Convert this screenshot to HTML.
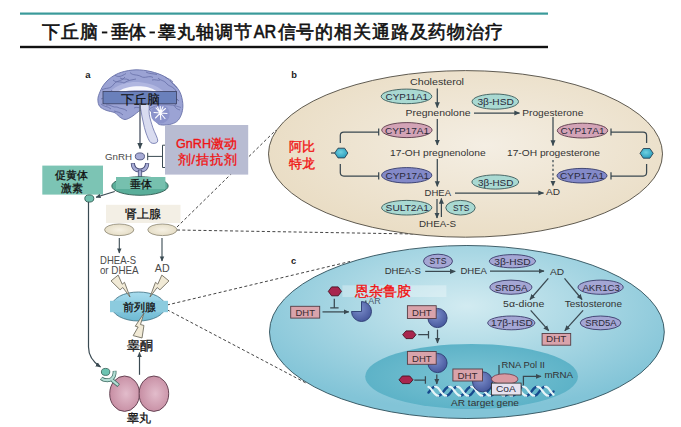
<!DOCTYPE html>
<html><head><meta charset="utf-8">
<style>
html,body{margin:0;padding:0;background:#fff;width:681px;height:427px;overflow:hidden}
svg{position:absolute;left:0;top:0;font-family:"Liberation Sans",sans-serif}
.t{font-size:9.5px;fill:#333}
.e{font-size:9.8px;fill:#2a2a3a}
.cn{fill:#111;stroke:#111;stroke-width:0.3px}
.red{fill:#f01414;stroke:#f01414;stroke-width:0.35px}
</style></head><body>
<svg width="681" height="427" viewBox="0 0 681 427">
<defs>
  <radialGradient id="gb" cx="0.55" cy="0.45" r="0.6">
    <stop offset="0" stop-color="#f4eee3"/>
    <stop offset="1" stop-color="#e9dcc3"/>
  </radialGradient>
  <radialGradient id="gc" cx="0.5" cy="0.35" r="0.6">
    <stop offset="0" stop-color="#d2ebf1"/>
    <stop offset="1" stop-color="#82c4d7"/>
  </radialGradient>
  <radialGradient id="gn" cx="0.5" cy="0.5" r="0.6">
    <stop offset="0" stop-color="#7cc4d4"/>
    <stop offset="1" stop-color="#57afc5"/>
  </radialGradient>
  <marker id="ah" viewBox="0 0 10 10" refX="9" refY="5" markerWidth="4.6" markerHeight="4.6" orient="auto-start-reverse">
    <path d="M0,0.6 L10,5 L0,9.4 z" fill="#3a4a52"/>
  </marker>
</defs>

<!-- title -->
<rect x="20" y="12.5" width="528" height="2.2" fill="#3a9a9a"/>
<rect x="20" y="45.8" width="528" height="2.4" fill="#111"/>
<g style="font-size:18.3px;fill:#111;stroke:#111;stroke-width:0.6px">
<text x="42.3" y="37.6" style="letter-spacing:0.9px">下丘脑</text>
<rect x="101.9" y="31.5" width="5.4" height="1.9" style="stroke:none"/>
<text x="111" y="37.6" style="letter-spacing:-1px">垂体</text>
<rect x="149.5" y="31.5" width="5.4" height="1.9" style="stroke:none"/>
<text x="158.2" y="37.6" style="letter-spacing:1px">睾丸轴调节</text>
<text x="253.8" y="37.6" textLength="22.5" lengthAdjust="spacingAndGlyphs">AR</text>
<text x="277.6" y="37.6" style="letter-spacing:0.85px">信号的相关通路及药物治疗</text>
</g>

<!-- ============ PANEL A ============ -->
<text x="85.3" y="77.9" style="font-size:9.5px;font-weight:bold;fill:#1a1a1a">a</text>

<!-- brain -->
<path d="M136.0,69.8 C131.1,69.9 125.4,71.0 121.3,72.3 C117.2,73.6 114.2,75.3 111.2,77.4 C108.2,79.5 105.6,82.3 103.6,85.0 C101.6,87.7 100.2,91.3 99.2,93.8 C98.2,96.3 97.8,98.1 97.9,100.2 C98.0,102.3 98.4,104.8 99.8,106.5 C101.2,108.2 103.6,109.2 106.1,110.3 C108.6,111.3 112.8,111.7 115.0,112.8 C117.2,113.9 117.8,115.7 119.5,116.8 C121.2,117.9 122.9,119.5 125.0,119.5 C127.1,119.5 129.3,118.1 132.0,116.5 C134.7,114.9 138.2,111.2 141.0,110.0 C143.8,108.8 146.4,107.0 149.0,109.0 C151.6,111.0 154.4,119.5 156.6,122.2 C158.8,124.9 159.7,124.7 162.2,125.0 C164.7,125.3 168.9,124.8 171.6,124.0 C174.2,123.2 176.4,122.2 178.1,120.3 C179.8,118.4 181.1,115.6 181.9,112.8 C182.7,110.0 183.1,106.9 182.8,103.5 C182.5,100.1 181.6,95.5 180.0,92.2 C178.4,88.9 176.2,86.5 173.5,83.8 C170.8,81.1 167.8,78.3 164.1,76.3 C160.3,74.3 155.7,72.7 151.0,71.6 C146.3,70.5 140.9,69.7 136.0,69.8 Z" fill="#9ba3d4" stroke="#6870a8" stroke-width="0.9"/>
<path d="M108.0,100.0 C107.7,98.2 108.3,94.3 110.0,92.0 C111.7,89.7 114.7,87.6 118.0,86.0 C121.3,84.4 126.0,83.1 130.0,82.5 C134.0,81.9 138.2,82.1 142.0,82.5 C145.8,82.9 149.7,83.8 153.0,85.0 C156.3,86.2 159.8,88.2 162.0,90.0 C164.2,91.8 166.3,94.5 166.0,96.0 C165.7,97.5 162.7,99.0 160.0,99.0 C157.3,99.0 153.3,96.7 150.0,96.0 C146.7,95.3 143.7,95.0 140.0,95.0 C136.3,95.0 131.7,95.3 128.0,96.0 C124.3,96.7 120.7,97.8 118.0,99.0 C115.3,100.2 113.7,102.8 112.0,103.0 C110.3,103.2 108.3,101.8 108.0,100.0 Z" fill="#b0b6e0"/>
<g fill="none" stroke="#5e67a0" stroke-width="0.7">
<path d="M102,90 C106,87 110,90 114,84 C117,80 121,82 125,77 M115,75 C118,78 122,76 126,73.5"/>
<path d="M130,72.5 C133,76 137,74 141,76.5 C145,79 149,75 153,77.5 M146,72 C149,74 153,73.5 157,74.5"/>
<path d="M158,78 C161,81 164,80 167,84 C170,87 173,86 176,91 M165,77 C168,79 171,79 173,82"/>
<path d="M101,99 C104,97 107,100 110,97 M113,80 C116,83 120,81 124,83 C128,80 132,80 136,79"/>
<path d="M168,93 C171,95 175,97 178,100 M176,104 C173,106 176,109 180,110"/>
<path d="M101,104 C104,107 108,106 111,109 M104,93 C107,91 110,94 112,90"/>
<path d="M106,105 C110,104 113,108 117,107 C120,109 124,108 127,111 M114,111 C117,112 120,112 123,115"/>
<path d="M134,108 C137,106 139,109 141,107 M171,98 C174,100 176,98 179,101 M120,78 C123,80 126,78 129,80"/>
<path d="M170,80 C172,84 175,85 177,88 M152,80 C155,79 158,81 160,80"/>
</g>
<path d="M116.0,93.5 C115.7,93.1 120.7,89.7 124.0,88.5 C127.3,87.3 132.0,86.5 136.0,86.3 C140.0,86.1 144.5,86.4 148.0,87.3 C151.5,88.2 156.7,91.0 157.0,91.5 C157.3,92.0 153.2,90.8 150.0,90.5 C146.8,90.2 142.0,89.9 138.0,90.0 C134.0,90.1 129.7,90.4 126.0,91.0 C122.3,91.6 116.3,93.9 116.0,93.5 Z" fill="#f7f7fc"/>
<path d="M150,108.5 C158,104 170,103.5 181,107.5" fill="none" stroke="#6a73ab" stroke-width="0.7"/>
<circle cx="160.3" cy="114" r="9.4" fill="#8b93cb"/>
<g stroke="#fcfcff" stroke-width="1.1" stroke-linecap="round">
<path d="M160.3,113 L160.3,106.5 M160.3,113 L165.5,108.5 M160.3,113 L167,113.5 M160.3,113 L165,118.5 M160.3,113 L160.8,119.5 M160.3,113 L155.5,118 M160.3,113 L154,112.5 M160.3,113 L156,108 M160.3,113 L163,106.8 M160.3,113 L157.5,107"/>
</g>
<path d="M140.7,104.0 C141.9,102.6 147.2,101.7 148.6,103.5 C150.0,105.3 148.6,110.7 149.3,114.7 C150.0,118.8 151.5,123.4 152.9,127.8 C154.3,132.2 158.1,138.5 157.8,141.0 C157.5,143.5 153.0,144.1 151.0,142.8 C149.0,141.5 147.3,136.5 146.0,133.0 C144.7,129.5 144.0,125.5 143.2,122.0 C142.4,118.5 141.6,115.0 141.2,112.0 C140.8,109.0 139.5,105.4 140.7,104.0 Z" fill="#d9dcf0" stroke="#6870a8" stroke-width="0.8"/>
<rect x="103" y="91.5" width="73.5" height="12.3" fill="#6a80bb" stroke="#3a3f5f" stroke-width="0.8"/>
<text x="120.5" y="103.8" style="font-size:13.4px;fill:#111;stroke:#111;stroke-width:0.2">下丘脑</text>
<line x1="140" y1="104" x2="140" y2="148.5" stroke="#586070" stroke-width="1.4" marker-end="url(#ah)"/>

<!-- GnRH -->
<g stroke="#444" stroke-width="1" stroke-dasharray="3,2.3" fill="none">
  <line x1="177" y1="227" x2="276" y2="130"/>
  <line x1="177" y1="230" x2="414" y2="234"/>
  <line x1="167" y1="305" x2="350" y2="261.5"/>
  <line x1="167" y1="309.7" x2="306" y2="383"/>
</g>
<text x="105" y="159.8" class="t" style="fill:#4a4a4a" textLength="27" lengthAdjust="spacingAndGlyphs">GnRH</text>
<ellipse cx="139.9" cy="156.4" rx="4.6" ry="3.5" fill="#a8acd6" stroke="#4a4f7a" stroke-width="0.9"/>
<line x1="147.7" y1="156.4" x2="162.5" y2="156.4" stroke="#3a4a52" stroke-width="1"/>
<line x1="147.7" y1="152.8" x2="147.7" y2="160.2" stroke="#3a4a52" stroke-width="1"/>
<path d="M166,145.2 L162.5,145.2 L162.5,167.5 L166,167.5" fill="none" stroke="#3a4a52" stroke-width="1"/>
<rect x="165" y="125" width="83.2" height="49.6" fill="#b8bcd2"/>
<text x="176" y="147.9" class="red" style="font-size:12.6px">GnRH激动</text>
<text x="177.5" y="163.6" class="red" style="font-size:12.6px;letter-spacing:0.9px">剂/拮抗剂</text>

<!-- pituitary receptor -->
<path d="M132.8,163.2 C133,168.5 136,170.5 140,170.5 C144,170.5 147,168.5 147.2,163.2" fill="none" stroke="#4a4f7a" stroke-width="4.2"/>
<path d="M132.8,163.6 C133,168.5 136,170.5 140,170.5 C144,170.5 147,168.5 147.2,163.6" fill="none" stroke="#a8acd6" stroke-width="2.4"/>
<rect x="138.3" y="170" width="3.4" height="7.5" fill="#a8acd6" stroke="#4a4f7a" stroke-width="0.8"/>
<ellipse cx="140" cy="186" rx="28.2" ry="9.3" fill="#5aae9a" stroke="#2e5a50" stroke-width="0.9"/>
<rect x="116" y="177" width="49.4" height="12" fill="#76c0ae"/>
<text x="129.7" y="187.8" class="cn" style="font-size:10.6px">垂体</text>

<rect x="42.3" y="165.6" width="60.7" height="29" fill="#7cc4b4"/>
<text x="55.4" y="178.6" class="cn" style="font-size:10.5px">促黄体</text>
<text x="60.6" y="191.6" class="cn" style="font-size:10.5px">激素</text>
<line x1="114.7" y1="191.4" x2="96" y2="197.3" stroke="#3a4a52" stroke-width="1.1" marker-end="url(#ah)"/>
<ellipse cx="89.3" cy="198.5" rx="4.5" ry="3.6" fill="#6fbfae" stroke="#2e5a50" stroke-width="0.9"/>
<path d="M88.5,202 L88.5,347 C88.5,356 93,362 100.5,367" fill="none" stroke="#3a4a52" stroke-width="1.2" marker-end="url(#ah)"/>

<!-- adrenal -->
<rect x="106" y="204.8" width="74.5" height="18.2" fill="#f3efe5"/>
<defs><radialGradient id="gad" cx="0.5" cy="0.5" r="0.55"><stop offset="0" stop-color="#f6f1e4"/><stop offset="1" stop-color="#e4dcc4"/></radialGradient></defs>
<text x="125.3" y="218.3" class="cn" style="font-size:12.3px">肾上腺</text>
<ellipse cx="119.2" cy="229.8" rx="14.6" ry="5.8" fill="url(#gad)" stroke="#8a8470" stroke-width="0.8"/>
<ellipse cx="162.4" cy="229.8" rx="14.6" ry="5.8" fill="url(#gad)" stroke="#8a8470" stroke-width="0.8"/>
<line x1="119.3" y1="238" x2="119.3" y2="253" stroke="#3a4a52" stroke-width="1.1" marker-end="url(#ah)"/>
<line x1="162" y1="238" x2="162" y2="261" stroke="#3a4a52" stroke-width="1.1" marker-end="url(#ah)"/>
<text x="100.1" y="263.5" class="t" style="fill:#4a4a4a;font-size:10.5px" textLength="35.9" lengthAdjust="spacingAndGlyphs">DHEA-S</text>
<text x="99.9" y="273.5" class="t" style="fill:#4a4a4a;font-size:10.5px" textLength="38.8" lengthAdjust="spacingAndGlyphs">or DHEA</text>
<text x="154.8" y="271.8" class="t" style="fill:#4a4a4a;font-size:10.5px" textLength="14.8" lengthAdjust="spacingAndGlyphs">AD</text>

<!-- prostate -->
<defs><linearGradient id="gp" x1="0" y1="0" x2="0" y2="1"><stop offset="0" stop-color="#a8dcee"/><stop offset="1" stop-color="#6db9d2"/></linearGradient>
<radialGradient id="gt" cx="0.55" cy="0.5" r="0.6"><stop offset="0" stop-color="#e2bccb"/><stop offset="1" stop-color="#c4899f"/></radialGradient></defs>
<ellipse cx="138.5" cy="306.5" rx="26.8" ry="14.5" fill="url(#gp)" stroke="#3e6f80" stroke-width="0.8"/>
<!-- bolts -->
<g fill="#f1ead6" stroke="#6e6a5c" stroke-width="0.8" stroke-linejoin="miter">
<path transform="translate(114.6,278) rotate(-39)" d="M-4.6,0 L4.6,0 L2,9.6 L5,9.6 L0,24.5 L0.4,12.6 L-3.2,12.6 Z"/>
<path transform="translate(165.4,278) rotate(39) scale(-1,1)" d="M-4.6,0 L4.6,0 L2,9.6 L5,9.6 L0,24.5 L0.4,12.6 L-3.2,12.6 Z"/>
<path transform="translate(137.6,336.8) rotate(195)" d="M-4.6,0 L4.6,0 L2,9.6 L5,9.6 L0,24.5 L0.4,12.6 L-3.2,12.6 Z"/>
</g>
<rect x="110" y="300.8" width="58" height="11.4" fill="#8ccbde"/>
<text x="123.1" y="311" class="cn" style="font-size:10.7px">前列腺</text>
<text x="127.2" y="350.4" class="cn" style="font-size:12.6px">睾酮</text>
<line x1="139.5" y1="374.8" x2="139.5" y2="352.5" stroke="#3a4a52" stroke-width="1.2" marker-end="url(#ah)"/>

<!-- testes -->
<ellipse cx="124.6" cy="393.7" rx="14.9" ry="17.7" fill="url(#gt)" stroke="#5a3848" stroke-width="0.9"/>
<ellipse cx="153.9" cy="393.7" rx="14.8" ry="17.7" fill="url(#gt)" stroke="#5a3848" stroke-width="0.9"/>
<g fill="none" stroke-linecap="butt">
<path d="M111.8,379.8 L118.6,385.6" stroke="#3a6a60" stroke-width="3.8"/>
<path d="M101.2,378.2 C104,380.5 108.5,381 111.5,379 C113.5,377.5 114.8,374.5 114.6,370.8" stroke="#3a6a60" stroke-width="3.8"/>
<path d="M111.8,379.8 L118.2,385.2" stroke="#b2ded4" stroke-width="2.3"/>
<path d="M101.5,378.3 C104,380.5 108.5,381 111.5,379 C113.5,377.5 114.8,374.5 114.6,371.2" stroke="#b2ded4" stroke-width="2.3"/>
</g>
<ellipse cx="105.6" cy="371.9" rx="4.2" ry="3.5" fill="#6cc4b2" stroke="#2e5a50" stroke-width="0.8"/>
<text x="127.2" y="422.4" class="cn" style="font-size:12px">睾丸</text>

<!-- ============ PANEL B ============ -->
<ellipse cx="465.5" cy="153.9" rx="197" ry="83.3" fill="url(#gb)" stroke="#4e4a40" stroke-width="0.9"/>
<text x="291.2" y="77.6" style="font-size:9.3px;font-weight:bold;fill:#1a1a1a">b</text>


<!-- arrows b -->
<g stroke="#3a4850" stroke-width="1.25" fill="none">
  <line x1="437.3" y1="88.5" x2="437.3" y2="107.5" marker-end="url(#ah)"/>
  <line x1="437.3" y1="119" x2="437.3" y2="145" marker-end="url(#ah)"/>
  <line x1="437.3" y1="159" x2="437.3" y2="186.3" marker-end="url(#ah)"/>
  <line x1="474" y1="113" x2="519.5" y2="113" marker-end="url(#ah)"/>
  <line x1="553" y1="117" x2="553" y2="145.5" marker-end="url(#ah)"/>
  <line x1="553" y1="160" x2="553" y2="186" stroke-dasharray="2.2,2.2" marker-end="url(#ah)"/>
  <line x1="455" y1="193" x2="543.5" y2="193" marker-end="url(#ah)"/>
  <line x1="437" y1="199" x2="437" y2="218" marker-end="url(#ah)"/>
  <line x1="441.4" y1="217" x2="441.4" y2="198.5" marker-end="url(#ah)"/>
  <path d="M340.3,143 L340.3,135.5 Q340.3,132 343.8,132 L378.7,132 M378.7,128.6 L378.7,135.6"/>
  <path d="M340.3,164 L340.3,172.5 Q340.3,176 343.8,176 L378.7,176 M378.7,172.3 L378.7,179.6"/>
  <path d="M646.6,143 L646.6,135.5 Q646.6,132 643.1,132 L611,132 M611,128.6 L611,135.6"/>
  <path d="M646.6,164 L646.6,172.5 Q646.6,176 643.1,176 L611,176 M611,172.3 L611,179.6"/>
  <line x1="331" y1="153" x2="335" y2="153"/>
</g>
<defs><radialGradient id="ghx" cx="0.45" cy="0.4" r="0.6"><stop offset="0" stop-color="#6fd0e0"/><stop offset="1" stop-color="#2a9cbc"/></radialGradient></defs>
<g stroke="#2a4050" stroke-width="0.9" fill="url(#ghx)">
  <path d="M334.7,153 L338,148.2 L344.6,148.2 L347.9,153 L344.6,157.9 L338,157.9 Z"/>
  <path d="M640,153.3 L643.3,148.5 L649.9,148.5 L653.2,153.3 L649.9,158.2 L643.3,158.2 Z"/>
</g>
<!-- enzymes b -->
<g stroke-width="0.9">
  <ellipse cx="406.5" cy="96.4" rx="25.3" ry="7.3" fill="#a9d9d2" stroke="#3a5a5a"/>
  <ellipse cx="495.3" cy="101.6" rx="23.2" ry="7.6" fill="#a9d9d2" stroke="#3a5a5a"/>
  <ellipse cx="406.9" cy="130.1" rx="25.2" ry="7.5" fill="#d3a3b6" stroke="#5a3a4a"/>
  <ellipse cx="582.5" cy="130.6" rx="25.2" ry="7.4" fill="#d3a3b6" stroke="#5a3a4a"/>
  <ellipse cx="406.7" cy="175.3" rx="25.1" ry="7.7" fill="#8389c8" stroke="#333a6a"/>
  <ellipse cx="582" cy="175.7" rx="25" ry="7.3" fill="#8389c8" stroke="#333a6a"/>
  <ellipse cx="495.3" cy="182" rx="23.4" ry="7.1" fill="#a9d9d2" stroke="#3a5a5a"/>
  <ellipse cx="406.7" cy="207.7" rx="25.1" ry="7.3" fill="#a9d9d2" stroke="#3a5a5a"/>
  <ellipse cx="460.5" cy="207.7" rx="14.7" ry="7.3" fill="#a9d9d2" stroke="#3a5a5a"/>
</g>
<g class="e">
  <text x="385.6" y="100" textLength="42.3" lengthAdjust="spacingAndGlyphs">CYP11A1</text>
  <text x="477.4" y="104.8" textLength="36.4" lengthAdjust="spacingAndGlyphs">3β-HSD</text>
  <text x="385" y="133.7" textLength="44" lengthAdjust="spacingAndGlyphs">CYP17A1</text>
  <text x="560.5" y="134.2" textLength="44" lengthAdjust="spacingAndGlyphs">CYP17A1</text>
  <text x="385.6" y="178.7" textLength="43.4" lengthAdjust="spacingAndGlyphs">CYP17A1</text>
  <text x="560" y="179.3" textLength="44" lengthAdjust="spacingAndGlyphs">CYP17A1</text>
  <text x="478" y="185.5" textLength="35.3" lengthAdjust="spacingAndGlyphs">3β-HSD</text>
  <text x="385.6" y="210.9" textLength="43.4" lengthAdjust="spacingAndGlyphs">SULT2A1</text>
  <text x="453" y="210.9" textLength="16.3" lengthAdjust="spacingAndGlyphs">STS</text>
</g>
<g class="t">
  <text x="410" y="85.3" textLength="54" lengthAdjust="spacingAndGlyphs">Cholesterol</text>
  <text x="405.5" y="115.8" textLength="65" lengthAdjust="spacingAndGlyphs">Pregnenolone</text>
  <text x="522.3" y="115.5" textLength="61" lengthAdjust="spacingAndGlyphs">Progesterone</text>
  <text x="390" y="156.1" textLength="95.6" lengthAdjust="spacingAndGlyphs">17-OH pregnenolone</text>
  <text x="507" y="156.3" textLength="93" lengthAdjust="spacingAndGlyphs">17-OH progesterone</text>
  <text x="424.6" y="195.8" textLength="26.4" lengthAdjust="spacingAndGlyphs">DHEA</text>
  <text x="546" y="195.4" textLength="14" lengthAdjust="spacingAndGlyphs">AD</text>
  <text x="419" y="226.8" textLength="37" lengthAdjust="spacingAndGlyphs">DHEA-S</text>
</g>
<text x="289.2" y="151.3" class="red" style="font-size:12.9px">阿比</text>
<text x="289.2" y="167.6" class="red" style="font-size:12.9px">特龙</text>


<!-- ============ PANEL C ============ -->
<ellipse cx="466.9" cy="332" rx="197.4" ry="86.5" fill="url(#gc)" stroke="#2f4f5a" stroke-width="0.9"/>
<text x="291" y="263.7" style="font-size:9.3px;font-weight:bold;fill:#1a1a1a">c</text>
<ellipse cx="471.6" cy="376.5" rx="106.4" ry="32.5" fill="url(#gn)"/>
<g fill="none" stroke-linecap="round"><path d="M438.2,395.8 L439.6,395.4 L441.0,394.5 L442.3,393.0 L443.7,391.2 L445.1,389.4 L446.5,387.9 L447.8,387.0 L449.2,386.6 M460.2,395.8 L461.6,395.4 L463.0,394.5 L464.3,393.0 L465.7,391.2 L467.1,389.4 L468.5,387.9 L469.8,387.0 L471.2,386.6 M482.2,395.8 L483.6,395.4 L485.0,394.5 L486.3,393.0 L487.7,391.2 L489.1,389.4 L490.5,387.9 L491.8,387.0 L493.2,386.6 M504.2,395.8 L505.6,395.4 L507.0,394.5 L508.3,393.0 L509.7,391.2 L511.1,389.4 L512.5,387.9 L513.8,387.0 L515.2,386.6 M526.2,395.8 L527.6,395.4 L529.0,394.5 L530.3,393.0 L531.7,391.2 L533.1,389.4 L534.5,387.9 L535.8,387.0 L537.2,386.6 M548.2,395.8 L549.6,395.4 L551.0,394.5 L552.3,393.0 L553.5,391.5 L553.5,391.5 L553.5,391.5 L553.5,391.5 L553.5,391.5 M428.5,392.6 L428.5,392.6 L428.5,392.6 L428.5,392.6 L429.6,391.2 L431.0,389.4 L432.4,387.9 L433.7,387.0 L435.1,386.6 M446.1,395.8 L447.5,395.4 L448.9,394.5 L450.2,393.0 L451.6,391.2 L453.0,389.4 L454.4,387.9 L455.7,387.0 L457.1,386.6 M468.1,395.8 L469.5,395.4 L470.9,394.5 L472.2,393.0 L473.6,391.2 L475.0,389.4 L476.4,387.9 L477.7,387.0 L479.1,386.6 M490.1,395.8 L491.5,395.4 L492.9,394.5 L494.2,393.0 L495.6,391.2 L497.0,389.4 L498.4,387.9 L499.7,387.0 L501.1,386.6 M512.1,395.8 L513.5,395.4 L514.9,394.5 L516.2,393.0 L517.6,391.2 L519.0,389.4 L520.4,387.9 L521.7,387.0 L523.1,386.6 M534.1,395.8 L535.5,395.4 L536.9,394.5 L538.2,393.0 L539.6,391.2 L541.0,389.4 L542.4,387.9 L543.7,387.0 L545.1,386.6" stroke="#174a8e" stroke-width="2.4"/><path d="M428.5,386.9 L428.6,387.0 L430.0,387.9 L431.3,389.4 L432.7,391.2 L434.1,393.0 L435.5,394.5 L436.8,395.4 L438.2,395.8 M449.2,386.6 L450.6,387.0 L452.0,387.9 L453.3,389.4 L454.7,391.2 L456.1,393.0 L457.5,394.5 L458.8,395.4 L460.2,395.8 M471.2,386.6 L472.6,387.0 L474.0,387.9 L475.3,389.4 L476.7,391.2 L478.1,393.0 L479.5,394.5 L480.8,395.4 L482.2,395.8 M493.2,386.6 L494.6,387.0 L496.0,387.9 L497.3,389.4 L498.7,391.2 L500.1,393.0 L501.5,394.5 L502.8,395.4 L504.2,395.8 M515.2,386.6 L516.6,387.0 L518.0,387.9 L519.3,389.4 L520.7,391.2 L522.1,393.0 L523.5,394.5 L524.8,395.4 L526.2,395.8 M537.2,386.6 L538.6,387.0 L540.0,387.9 L541.3,389.4 L542.7,391.2 L544.1,393.0 L545.5,394.5 L546.8,395.4 L548.2,395.8 M435.1,386.6 L436.5,387.0 L437.9,387.9 L439.2,389.4 L440.6,391.2 L442.0,393.0 L443.4,394.5 L444.7,395.4 L446.1,395.8 M457.1,386.6 L458.5,387.0 L459.9,387.9 L461.2,389.4 L462.6,391.2 L464.0,393.0 L465.4,394.5 L466.7,395.4 L468.1,395.8 M479.1,386.6 L480.5,387.0 L481.9,387.9 L483.2,389.4 L484.6,391.2 L486.0,393.0 L487.4,394.5 L488.7,395.4 L490.1,395.8 M501.1,386.6 L502.5,387.0 L503.9,387.9 L505.2,389.4 L506.6,391.2 L508.0,393.0 L509.4,394.5 L510.7,395.4 L512.1,395.8 M523.1,386.6 L524.5,387.0 L525.9,387.9 L527.2,389.4 L528.6,391.2 L530.0,393.0 L531.4,394.5 L532.7,395.4 L534.1,395.8 M545.1,386.6 L546.5,387.0 L547.9,387.9 L549.2,389.4 L550.6,391.2 L552.0,393.0 L553.4,394.5 L553.5,394.6 L553.5,394.6" stroke="#e6f5f8" stroke-width="2.2"/></g>
<g stroke="#3a4850" stroke-width="1.25" fill="none">
  <line x1="425.2" y1="271.4" x2="455.2" y2="271.4" marker-end="url(#ah)"/>
  <line x1="490" y1="271.1" x2="544" y2="271.1" marker-end="url(#ah)"/>
  <line x1="548.3" y1="278.3" x2="530" y2="299.5" marker-end="url(#ah)"/>
  <line x1="564.5" y1="278.3" x2="582" y2="299.5" marker-end="url(#ah)"/>
  <line x1="530.7" y1="310.4" x2="548.7" y2="330.7" marker-end="url(#ah)"/>
  <line x1="583.1" y1="310.4" x2="564.8" y2="330.7" marker-end="url(#ah)"/>
  <line x1="322.5" y1="311.9" x2="348.8" y2="311.9" marker-end="url(#ah)"/>
  <path d="M334.3,298.7 L334.3,307.9 M330.2,307.9 L338.6,307.9"/>
  <path d="M418.2,334.7 L428.5,334.7 M428.5,331 L428.5,338.4"/>
  <path d="M414.3,380 L425.4,380 M425.4,376.2 L425.4,383.8"/>
  <line x1="437.5" y1="329.6" x2="437.5" y2="343" marker-end="url(#ah)"/>
  <line x1="436.8" y1="374.6" x2="436.8" y2="384" marker-end="url(#ah)"/>
  <path d="M523.4,385.2 L523.4,376.4 L541,376.4" marker-end="url(#ah)"/>
  <line x1="499" y1="365" x2="499" y2="376"/>
  <line x1="365.8" y1="300.5" x2="365.8" y2="309"/>
</g>
<!-- enzymes c -->
<g stroke-width="0.9" fill="#a4a6d4" stroke="#3a3a6a">
  <ellipse cx="438" cy="261.2" rx="14.5" ry="7"/>
  <ellipse cx="512.4" cy="261.2" rx="23.1" ry="6.6"/>
  <ellipse cx="510.9" cy="287.2" rx="21" ry="7.1"/>
  <ellipse cx="600.6" cy="287.2" rx="22.6" ry="7.1"/>
  <ellipse cx="511.3" cy="322.9" rx="23.6" ry="6.9"/>
  <ellipse cx="600.6" cy="322.9" rx="20.4" ry="6.9"/>
</g>
<g class="e">
  <text x="429.6" y="264.2" textLength="16.8" lengthAdjust="spacingAndGlyphs">STS</text>
  <text x="494.3" y="264.5" textLength="36.4" lengthAdjust="spacingAndGlyphs">3β-HSD</text>
  <text x="495" y="291" textLength="32.4" lengthAdjust="spacingAndGlyphs">SRD5A</text>
  <text x="582.4" y="291" textLength="37.5" lengthAdjust="spacingAndGlyphs">AKR1C3</text>
  <text x="491" y="325.9" textLength="41.9" lengthAdjust="spacingAndGlyphs">17β-HSD</text>
  <text x="585.3" y="325.9" textLength="31.3" lengthAdjust="spacingAndGlyphs">SRD5A</text>
</g>
<g class="t">
  <text x="384.7" y="274.4" textLength="36.1" lengthAdjust="spacingAndGlyphs">DHEA-S</text>
  <text x="460.5" y="274.4" textLength="26.4" lengthAdjust="spacingAndGlyphs">DHEA</text>
  <text x="550" y="274.9" textLength="14.1" lengthAdjust="spacingAndGlyphs">AD</text>
  <text x="503.1" y="306.5" textLength="41.2" lengthAdjust="spacingAndGlyphs">5α-dione</text>
  <text x="564.8" y="306.5" textLength="57.2" lengthAdjust="spacingAndGlyphs">Testosterone</text>
  <text x="368.2" y="303.5" textLength="12.4" lengthAdjust="spacingAndGlyphs" style="fill:#4a5a6a">AR</text>
  <text x="501.4" y="367.6" textLength="43.5" lengthAdjust="spacingAndGlyphs">RNA Pol II</text>
  <text x="544.4" y="378.2" textLength="28.6" lengthAdjust="spacingAndGlyphs">mRNA</text>
  <text x="451" y="405.8" textLength="68" lengthAdjust="spacingAndGlyphs">AR target gene</text>
</g>
<!-- AR receptors -->
<defs>
  <radialGradient id="gar" cx="0.4" cy="0.35" r="0.7">
    <stop offset="0" stop-color="#7d8fcc"/>
    <stop offset="1" stop-color="#44559a"/>
  </radialGradient>
</defs>
<path d="M361.5,301.5 A10,10 0 1 1 351.5,311.5 L361.5,311.5 Z" fill="url(#gar)" stroke="#2c3a70" stroke-width="0.9"/>
<circle cx="437.5" cy="318" r="9.6" fill="url(#gar)" stroke="#2c3a70" stroke-width="0.9"/>
<circle cx="437.5" cy="363" r="9.6" fill="url(#gar)" stroke="#2c3a70" stroke-width="0.9"/>
<circle cx="482.5" cy="381.8" r="10" fill="url(#gar)" stroke="#2c3a70" stroke-width="0.9"/>
<!-- DHT boxes -->
<g fill="#d9a3ab" stroke="#553c44" stroke-width="0.9">
  <rect x="290.7" y="306.3" width="29" height="11.8"/>
  <rect x="407.4" y="305.7" width="28.8" height="12.8"/>
  <rect x="407.4" y="351.5" width="28.8" height="12.8"/>
  <rect x="452.9" y="369" width="29.6" height="12"/>
  <rect x="542.1" y="333.5" width="28.6" height="11.7"/>
</g>
<g class="e" style="fill:#3a2a30">
  <text x="295.5" y="315.8" textLength="19.4" lengthAdjust="spacingAndGlyphs">DHT</text>
  <text x="412" y="315.8" textLength="19.6" lengthAdjust="spacingAndGlyphs">DHT</text>
  <text x="412" y="361.6" textLength="19.6" lengthAdjust="spacingAndGlyphs">DHT</text>
  <text x="457.5" y="378.8" textLength="20" lengthAdjust="spacingAndGlyphs">DHT</text>
  <text x="546" y="342.4" textLength="20.3" lengthAdjust="spacingAndGlyphs">DHT</text>
</g>
<ellipse cx="504.7" cy="379.1" rx="13.3" ry="5.3" fill="#d89aa2" stroke="#6a3a4a" stroke-width="0.8"/>
<rect x="491.5" y="383.1" width="29.6" height="11.9" fill="#e6e2ef" stroke="#333" stroke-width="0.9"/>
<text x="496" y="392.3" class="e" textLength="19.8" lengthAdjust="spacingAndGlyphs">CoA</text>
<!-- hexagons red -->
<g fill="#a8264e" stroke="#4a1020" stroke-width="0.9">
  <path d="M328.3,291.4 L331.6,286.9 L338.2,286.9 L341.5,291.4 L338.2,295.8 L331.6,295.8 Z"/>
  <path d="M402.7,334.7 L406,330.9 L412.7,330.9 L416,334.7 L412.7,338.6 L406,338.6 Z"/>
  <path d="M399,379.8 L402.3,376 L409.7,376 L413,379.8 L409.7,383.6 L402.3,383.6 Z"/>
</g>
<rect x="342.4" y="285.3" width="104" height="11.7" fill="#ffffff" opacity="0.3"/>
<text x="354.8" y="296" class="red" style="font-size:14.3px">恩杂鲁胺</text>

</svg>
</body></html>
